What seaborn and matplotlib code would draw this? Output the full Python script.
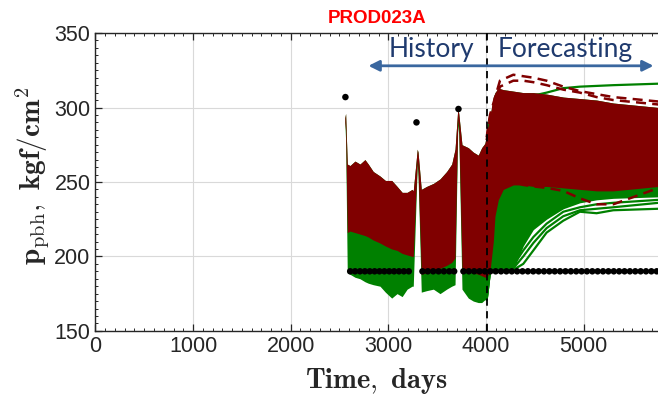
import numpy as np
import pandas as pd
import matplotlib
matplotlib.use("Agg")
import matplotlib.pyplot as plt
import seaborn as sns

# ---------------- data ----------------
# ensemble envelope (dense band of realisations)
env_t = [2555, 2563, 2580, 2608, 2659, 2710, 2761, 2795, 2846, 2915, 2970, 3035,
         3090, 3142, 3193, 3244, 3256, 3297, 3305, 3338, 3393, 3462, 3530, 3598,
         3650, 3684, 3712, 3722, 3755, 3820, 3871, 3922, 3957, 3991, 4008, 4042,
         4076, 4093, 4127, 4178, 4281, 4383, 4486, 4622, 4793, 4963, 5134, 5305, 5770]
red_hi = [293, 296, 262, 261, 264, 262, 265, 262, 257, 254, 251, 251,
          247, 243, 243, 245, 244, 272, 270, 245, 247, 249, 252, 257,
          262, 272, 299, 296, 275, 273, 270, 268, 273, 276, 283, 294,
          307, 310, 313, 312, 311, 310, 310, 309, 307, 306, 305, 303, 300]
red_lo = [290, 284, 216, 217, 216, 215, 214, 213, 211, 209, 207, 205,
          204, 202, 201, 200, 200, 264, 258, 188, 189, 191, 192, 194,
          196, 199, 292, 286, 192, 190, 189, 188, 187, 186, 186, 190,
          210, 227, 238, 245, 248, 248, 247, 247, 246, 245, 244, 244, 247]
green_lo = [290, 278, 189, 188, 186, 185, 183, 182, 181, 180, 176, 172,
            175, 173, 178, 180, 180, 262, 254, 176, 177, 178, 175, 178,
            180, 181, 288, 282, 178, 172, 170, 169, 169, 171, 171, 190,
            190, 190, 191, 191, 191, 207, 218, 225, 232, 236, 238, 239, 240]

# individual forecast realisations
fc_t = [4008, 4042, 4144, 4281, 4383, 4486, 4622, 4793, 4963, 5134, 5305, 5770]
green_f1 = [171, 190, 190, 191, 195, 204, 216, 224, 230, 229, 231, 232]
green_f2 = [171, 190, 190, 192, 200, 209, 219, 227, 231, 232, 233, 236]
green_f3 = [171, 190, 191, 194, 204, 213, 222, 230, 233, 235, 236, 238]
green_top = [275, 293, 300, 304, 306, 308, 310, 313, 314, 314.5, 315, 316]
red_f1 = [280, 295, 318, 322, 321, 320, 318, 314, 311, 309, 307, 304]
red_f2 = [278, 293, 314, 318, 318, 317, 315, 312, 310, 307, 305, 302]
red_f3 = [275, 280, 260, 250, 248, 247, 246, 244, 239, 235, 235, 246]

# observed data
obs_t = [2610, 2660, 2710, 2760, 2810, 2860, 2910, 2960, 3010, 3060, 3110, 3160, 3210,
         3350, 3405, 3460, 3515, 3570, 3625, 3675,
         3770, 3825, 3880, 3935, 3990, 4045, 4100, 4155, 4210, 4265, 4320, 4375,
         4430, 4485, 4540, 4595, 4650, 4705, 4760, 4815, 4870, 4925, 4980, 5035,
         5090, 5145, 5200, 5255, 5310, 5365, 5420, 5475, 5530, 5585, 5640, 5695, 5750]
obs_p = [190] * len(obs_t)
peak_t = [2561, 3289, 3719]
peak_p = [307, 290, 299]

forecast_start = 4015
x_ticks = [0, 1000, 2000, 3000, 4000, 5000]
y_ticks = [150, 200, 250, 300, 350]

RED = "#800000"
GREEN = "#008000"

# ---------------- style ----------------
sns.set_style("ticks")
plt.rcParams["font.family"] = ["Liberation Sans", "DejaVu Sans"]
plt.rcParams["mathtext.fontset"] = "cm"

fig = plt.figure(figsize=(6.58, 4.03), dpi=100)
ax = fig.add_axes([0.145, 0.179, 0.855, 0.739])

# dense bands
ax.fill_between(env_t, green_lo, red_hi, color=GREEN, lw=0, zorder=2)
ax.fill_between(env_t, red_lo, red_hi, color=RED, lw=0, zorder=3)

n = len(fc_t)
fc_green = pd.DataFrame({
    "t": fc_t * 3,
    "p": green_f1 + green_f2 + green_f3,
    "id": [1] * n + [2] * n + [3] * n,
})
sns.lineplot(data=fc_green, x="t", y="p", units="id", estimator=None,
             color=GREEN, lw=1.6, ax=ax, zorder=2)
sns.lineplot(x=fc_t, y=green_top, color=GREEN, lw=1.6, ax=ax, zorder=2.5)

fc_red = pd.DataFrame({
    "t": fc_t * 3,
    "p": red_f1 + red_f2 + red_f3,
    "id": [1] * n + [2] * n + [3] * n,
})
sns.lineplot(data=fc_red, x="t", y="p", units="id", estimator=None,
             color=RED, lw=1.8, linestyle=(0, (4, 2.5)), ax=ax, zorder=5)

# observations
sns.scatterplot(x=obs_t, y=obs_p, color="black", s=22, edgecolor="none", ax=ax, zorder=6)
sns.scatterplot(x=peak_t, y=peak_p, color="black", s=22, edgecolor="none", ax=ax, zorder=6)

# history / forecast split
ax.axvline(forecast_start, color="black", ls=(0, (4, 3)), lw=1.3, zorder=7)
ax.annotate("", xy=(2797, 328), xytext=(5717, 328),
            arrowprops=dict(arrowstyle="<|-|>", color="#3a679f", lw=2,
                            mutation_scale=16, shrinkA=0, shrinkB=0), zorder=8)
ax.text(3440, 333.8, "History", color="#1f3a6e", fontsize=19, family="Lato",
        ha="center", va="baseline", zorder=8)
ax.text(4810, 333.8, "Forecasting", color="#1f3a6e", fontsize=19, family="Lato",
        ha="center", va="baseline", zorder=8)

# axes
ax.set_xlim(0, 5763)
ax.set_ylim(150, 350)
ax.set_xticks(x_ticks)
ax.set_yticks(y_ticks)
ax.set_xticks(np.arange(0, 5800, 100), minor=True)
ax.set_yticks(np.arange(150, 351, 5), minor=True)
ax.tick_params(which="both", direction="in", top=True, right=False,
               labelsize=15.5, labelcolor="#262626", color="#262626")
ax.tick_params(which="major", length=5, width=0.9)
ax.tick_params(which="minor", length=2.5, width=0.7)
ax.grid(True, which="major", color="#d9d9d9", lw=0.8, zorder=0)
ax.set_axisbelow(True)
for side in ["left", "bottom", "top"]:
    ax.spines[side].set_color("#262626")
    ax.spines[side].set_linewidth(1.0)
ax.spines["right"].set_visible(False)

ax.set_xlabel(r"$\mathbf{Time,\ days}$", fontsize=20.5, labelpad=7)
ax.set_ylabel(r"$\mathbf{p}_{\mathrm{pbh}}\mathbf{,\ kgf/cm^2}$", fontsize=21)
ax.yaxis.set_label_coords(-0.077, 0.52)
ax.set_title("PROD023A", color="#ff0000", fontweight="bold", fontsize=13.5, pad=7)

fig.savefig("out.png", dpi=100)
